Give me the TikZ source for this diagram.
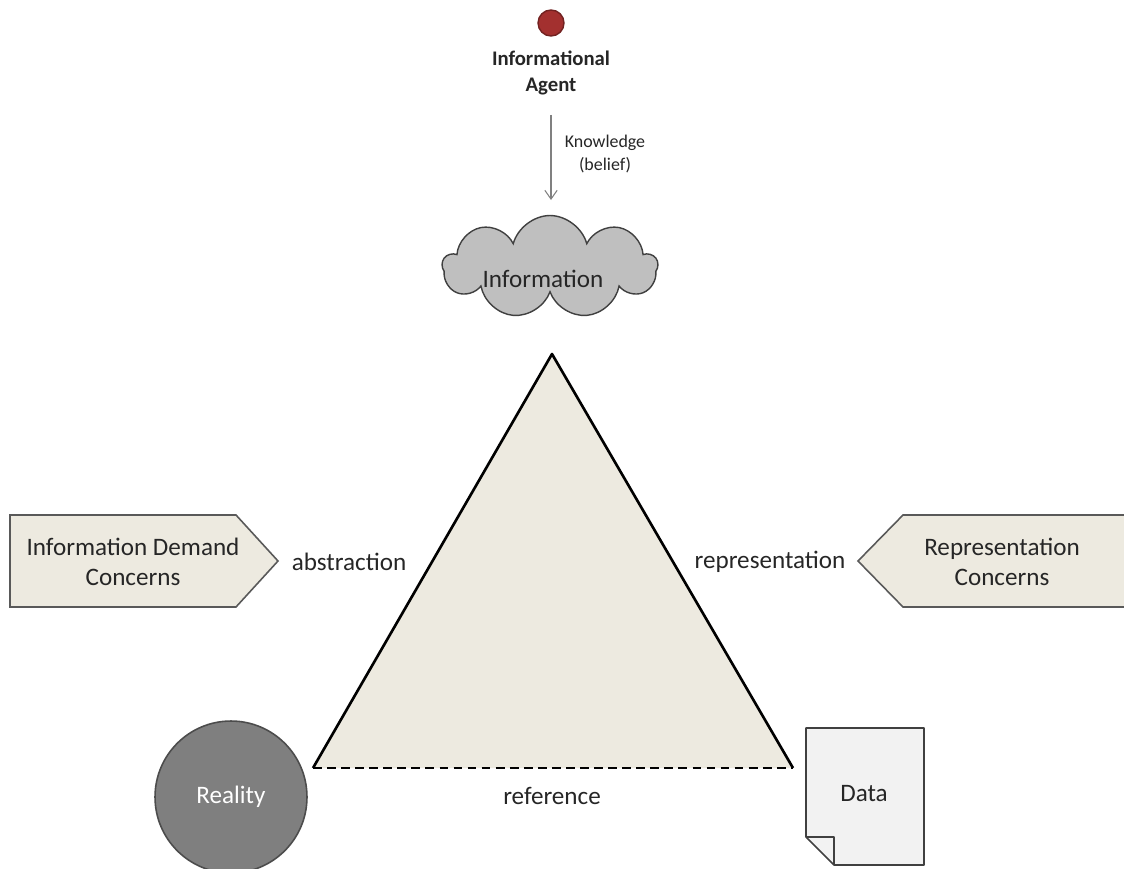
\documentclass[tikz,border=0pt]{standalone}
\usepackage{fontspec}
\setmainfont{Carlito}
\usetikzlibrary{shapes.symbols,arrows.meta}
\definecolor{agentred}{HTML}{A3302F}
\definecolor{cloudgray}{HTML}{BFBFBF}
\definecolor{beige}{HTML}{EDEAE0}
\definecolor{realgray}{HTML}{7F7F7F}
\definecolor{paper}{HTML}{F2F2F2}
\definecolor{ink}{HTML}{262626}
\tikzset{
  lbl/.style={text=ink,font=\fontsize{14.3}{17}\selectfont,align=center},
  small/.style={text=ink,font=\fontsize{10.2}{13}\selectfont,align=center},
  concern/.style={draw=black!65,fill=beige,line width=0.9pt,line join=miter},
}
\begin{document}
\begin{tikzpicture}[x=0.02cm,y=-0.02cm]
  \useasboundingbox (0,0) rectangle (1124,868);
  % vertices
  \coordinate (apex) at (552,354);
  \coordinate (lb) at (313,768);
  \coordinate (rb) at (793,768);
  % triangle
  \fill[beige] (apex) -- (lb) -- (rb) -- cycle;
  \draw[line width=1.5pt,line join=round] (lb) -- (apex) -- (rb);
  \draw[line width=1.5pt,dashed,dash pattern=on 5pt off 3pt] (lb) -- (rb);
  % agent
  \node[circle,fill=agentred,draw=agentred!70!black,line width=0.8pt,
    minimum size=0.52cm,inner sep=0pt] (dot) at (551,23) {};
  \node[text=ink,font=\fontsize{11.8}{14.8}\selectfont\bfseries,align=center]
    (agent) at (551,73) {Informational\\Agent};
  \node[cloud,cloud puffs=9,aspect=2.1,draw=black!75,fill=cloudgray,
    minimum width=4.3cm,minimum height=2.06cm,line width=0.8pt] (cloud) at (550,267) {};
  \node[lbl] (info) at (543,279) {Information};
  \coordinate (kstart) at (551,115);
  \coordinate (kend) at (551,200);
  \draw[black!50,line width=0.6pt,-{Straight Barb[length=5pt,width=7pt]}] (kstart) -- (kend);
  \node[small] (know) at (605,154) {Knowledge\\(belief)};
  % concerns
  \draw[concern] (10,515) -- (236,515) -- (278,561) -- (236,607) -- (10,607) -- cycle;
  \node[lbl] (demand) at (133,562) {Information Demand\\Concerns};
  \draw[concern] (1140,515) -- (903,515) -- (858,561) -- (903,607) -- (1140,607) -- cycle;
  \node[lbl] (repr) at (1002,562) {Representation\\Concerns};
  % edge labels
  \node[lbl] (abs) at (349,562) {abstraction};
  \node[lbl] (rep) at (770,562) {representation};
  \node[lbl] (ref) at (552,796) {reference};
  % reality
  \node[circle,fill=realgray,draw=black!70,line width=0.9pt,minimum size=3.04cm,
    text=white,font=\fontsize{14.3}{17}\selectfont] (reality) at (231,797) {Reality};
  % data
  \draw[fill=paper,draw=black!75,line width=0.9pt,line join=round]
    (806,728) -- (924,728) -- (924,865) -- (834,865) -- (806,837) -- cycle;
  \draw[draw=black!75,line width=0.9pt,line join=round] (806,837) -- (834,837) -- (834,865);
  \node[lbl] (data) at (864,794) {Data};
\end{tikzpicture}
\end{document}
